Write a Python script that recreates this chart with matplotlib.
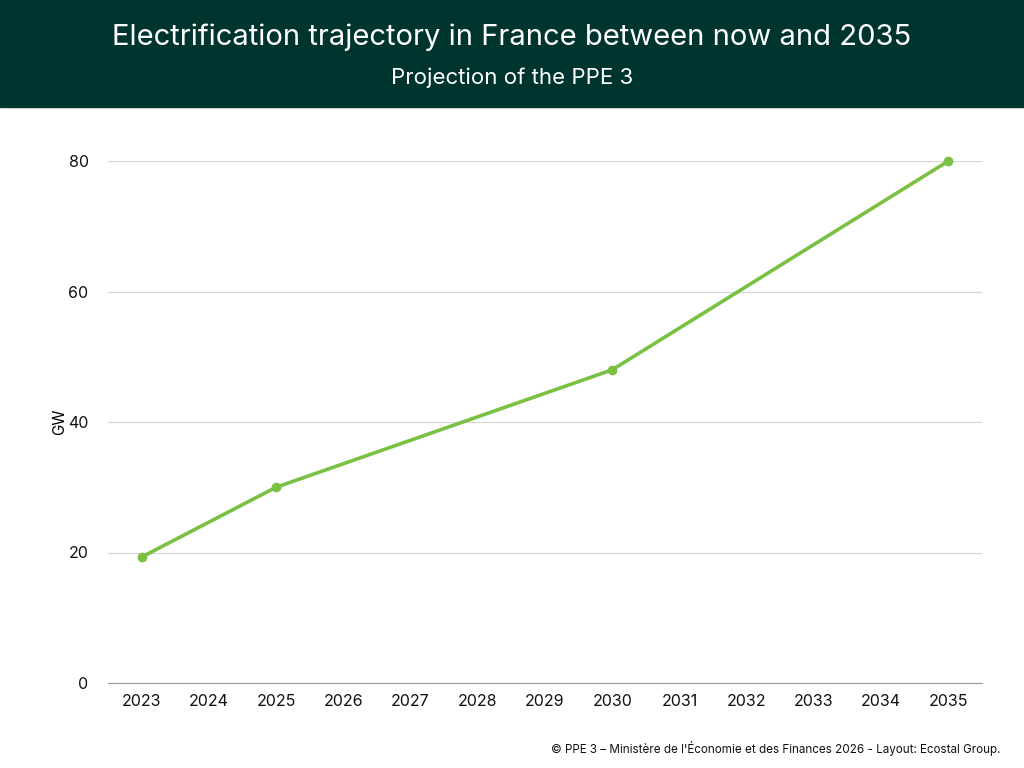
import matplotlib
matplotlib.use("Agg")
import matplotlib.pyplot as plt
from matplotlib.patches import Rectangle

plt.rcParams['font.family'] = ['Inter', 'DejaVu Sans']

# data
years = list(range(2023, 2036))
point_years = [2023, 2025, 2030, 2035]
point_values = [19.3, 30, 48, 80]
y_ticks = [0, 20, 40, 60, 80]

title = "Electrification trajectory in France between now and 2035"
subtitle = "Projection of the PPE 3"
source = "© PPE 3 – Ministère de l'Économie et des Finances 2026 - Layout: Ecostal Group."

green = "#7ac143"
dark = "#00352f"

fig = plt.figure(figsize=(10.24, 7.68), dpi=100)
fig.patches.append(Rectangle((0, 1 - 107 / 768), 1, 107 / 768, transform=fig.transFigure,
                             color=dark, zorder=0))
fig.text(0.5, 1 - 37 / 768, title, color="white", fontsize=21, ha="center", va="center")
fig.text(0.5, 1 - 78 / 768, subtitle, color="white", fontsize=16, ha="center", va="center")

ax = fig.add_axes([108 / 1024, 85 / 768, 874 / 1024, 522 / 768])
ax.plot(point_years, point_values, color=green, lw=2.6, marker="o", ms=6, clip_on=False, zorder=3)
ax.set_xlim(2022.5, 2035.5)
ax.set_ylim(0, 80)
ax.set_xticks(years)
ax.set_xticklabels([str(y) for y in years])
ax.set_yticks(y_ticks)
ax.grid(axis="y", color="#d6d6d6", lw=0.9)
ax.set_axisbelow(True)
for s in ["top", "right", "left"]:
    ax.spines[s].set_visible(False)
ax.spines["bottom"].set_color("#999999")
ax.tick_params(axis="both", length=0, labelsize=11.5, colors="#111111")
ax.tick_params(axis="x", pad=8)
ax.tick_params(axis="y", pad=14)
ax.set_ylabel("GW", fontsize=11)
ax.yaxis.set_label_coords(-0.047, 0.5)

fig.text(1000 / 1024, 1 - 748 / 768, source, fontsize=8.4, ha="right", va="center", color="#111111")

fig.savefig("out.png", dpi=100)
